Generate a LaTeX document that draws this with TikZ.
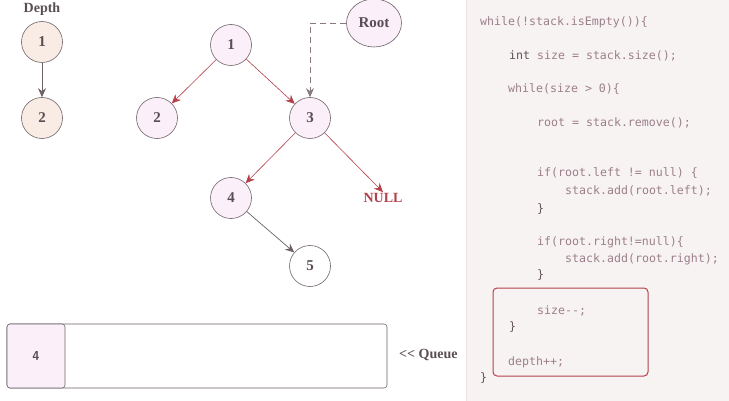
\documentclass[tikz,border=0pt]{standalone}
\usepackage{fontspec}
\setmainfont{Liberation Serif}
\newfontfamily\codefont{DejaVu Sans Mono}
\usetikzlibrary{arrows.meta,shapes.geometric}
\definecolor{ink}{HTML}{5A4E54}
\definecolor{edge}{HTML}{6E6268}
\definecolor{treefill}{HTML}{FBF0FA}
\definecolor{depthfill}{HTML}{F9ECE4}
\definecolor{redline}{HTML}{B3404A}
\definecolor{panel}{HTML}{F8F3F3}
\definecolor{panelrule}{HTML}{EEE2E2}
\definecolor{codetext}{HTML}{9C7F8B}
\definecolor{codedark}{HTML}{5E5258}
\definecolor{dashpink}{HTML}{8A7A80}
\tikzset{
  x=1pt, y=-1pt,
  treenode/.style={circle, draw=edge, line width=0.6pt, fill=treefill,
    minimum size=41pt, inner sep=0pt, text=ink, font=\bfseries\fontsize{15}{15}\selectfont},
  depthnode/.style={treenode, fill=depthfill},
  leafnode/.style={treenode, fill=white},
  redarrow/.style={draw=redline, line width=0.6pt, -{Stealth[length=9pt,width=8pt]}},
  grayarrow/.style={draw=edge, line width=0.7pt, -{Stealth[length=9pt,width=8pt]}},
  label/.style={text=ink, font=\bfseries\fontsize{14}{14}\selectfont},
  code/.style={anchor=base west, inner sep=0pt, text=codetext, font=\codefont\fontsize{11.6}{12}\selectfont},
}
\newcommand{\dd}{\mbox{-}\mbox{-}}
\begin{document}
\begin{tikzpicture}
\useasboundingbox (0,0) rectangle (729,401);
\fill[white] (0,0) rectangle (729,401);

% code panel
\fill[panel] (466,0) rectangle (729,401);
\draw[panelrule, line width=0.8pt] (466.5,0) -- (466.5,401);

% depth counter
\node[label] (depthlbl) at (42,9) {Depth};
\node[depthnode] (d1) at (42,42) {1};
\node[depthnode] (d2) at (42,118) {2};
\draw[grayarrow] (d1) -- (d2);

% tree
\node[treenode] (n1) at (231,45) {1};
\node[treenode] (n2) at (157,118) {2};
\node[treenode] (n3) at (310,118) {3};
\node[treenode] (n4) at (231,198) {4};
\node[leafnode] (n5) at (310,266) {5};
\node[text=redline, font=\bfseries\fontsize{14}{14}\selectfont, inner sep=1pt] (null) at (383,198) {NULL};
\node[ellipse, draw=edge, line width=0.6pt, fill=treefill, minimum width=55pt, minimum height=48pt,
      inner sep=0pt, text=ink, font=\bfseries\fontsize{15}{15}\selectfont] (root) at (374,23) {Root};

\draw[redarrow] (n1) -- (n2);
\draw[redarrow] (n1) -- (n3);
\draw[redarrow] (n3) -- (n4);
\draw[redarrow] (n3) -- (null.north);
\draw[grayarrow] (n4) -- (n5);
\draw[dashpink, line width=0.8pt, dash pattern=on 6pt off 4pt, -{Stealth[length=9pt,width=8pt]}]
  (root.west) -| (n3.north);

% queue
\draw[edge, line width=0.6pt, rounded corners=3pt] (7,324) rectangle (387,388);
\node[draw=edge, line width=0.6pt, fill=treefill, rounded corners=3pt, minimum width=58pt,
      minimum height=64pt, inner sep=0pt, text=ink, font=\bfseries\sffamily\fontsize{13}{13}\selectfont]
      (q4) at (36,356) {4};
\node[label, anchor=west, inner sep=0pt] (queuelbl) at (399,355) {\mbox{<}\mbox{<} Queue};

% code listing
\node[code] (c1) at (480,26) {while(!stack.isEmpty())\{};
\node[code] (c2) at (509,60) {{\color{codedark}int} size = stack.size();};
\node[code] (c3) at (508,93) {while(size > 0)\{};
\node[code] (c4) at (537,127) {root = stack.remove();};
\node[code] (c5) at (537,177) {if(root.left != null) \{};
\node[code] (c6) at (565,195) {stack.add(root.left);};
\node[code, text=codedark] (c7) at (537,212) {\}};
\node[code] (c8) at (537,245) {if(root.right!=null)\{};
\node[code] (c9) at (565,262) {stack.add(root.right);};
\node[code, text=codedark] (c10) at (537,279) {\}};
\node[code] (c11) at (537,314) {size\dd;};
\node[code, text=codedark] (c12) at (509,330) {\}};
\node[code] (c13) at (508,365) {depth++;};
\node[code, text=codedark] (c14) at (480,381) {\}};
\draw[redline, line width=1pt, rounded corners=4pt] (493,288) rectangle (648,376);
\end{tikzpicture}
\end{document}
